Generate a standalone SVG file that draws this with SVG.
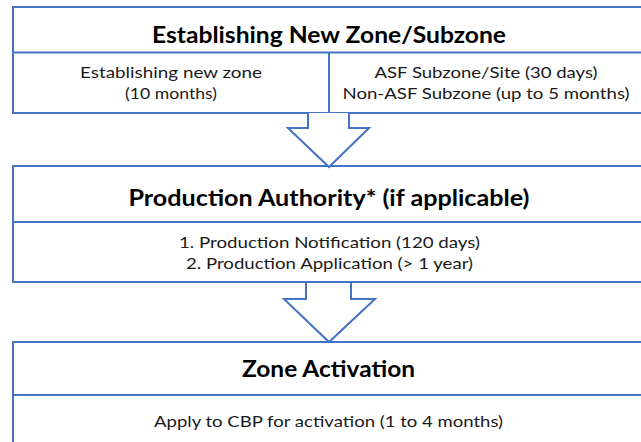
<svg xmlns="http://www.w3.org/2000/svg" width="641" height="442" viewBox="0 0 641 442">
  <defs>
    <style>
      .box { fill: #ffffff; stroke: #4472C4; stroke-width: 2; }
      .rule { stroke: #4472C4; stroke-width: 2; fill: none; }
      .arrow { fill: #ffffff; stroke: #4472C4; stroke-width: 2; stroke-linejoin: miter; }
      .head { font-family: Lato, "Liberation Sans", sans-serif; font-weight: bold; font-size: 23px; fill: #000000; text-anchor: middle; }
      .body { font-family: Lato, "Liberation Sans", sans-serif; font-size: 16px; fill: #1a1a1a; text-anchor: middle; }
    </style>
  </defs>
  <rect width="641" height="442" fill="#ffffff"/>

  <!-- Stage 1 -->
  <g id="establishing-zone">
    <rect class="box" x="13" y="7" width="660" height="106"/>
    <line class="rule" x1="13" y1="52.5" x2="673" y2="52.5"/>
    <line class="rule" x1="329" y1="52.5" x2="329" y2="113"/>
    <text class="head" x="329" y="43" textLength="354" lengthAdjust="spacingAndGlyphs">Establishing New Zone/Subzone</text>
    <text class="body" x="171" y="78" textLength="182" lengthAdjust="spacingAndGlyphs">Establishing new zone</text>
    <text class="body" x="171" y="99" textLength="92" lengthAdjust="spacingAndGlyphs">(10 months)</text>
    <text class="body" x="486" y="78" textLength="223" lengthAdjust="spacingAndGlyphs">ASF Subzone/Site (30 days)</text>
    <text class="body" x="486" y="99" textLength="287" lengthAdjust="spacingAndGlyphs">Non-ASF Subzone (up to 5 months)</text>
  </g>

  <!-- Stage 2 -->
  <g id="production-authority">
    <rect class="box" x="13" y="166" width="660" height="116"/>
    <line class="rule" x1="13" y1="222" x2="673" y2="222"/>
    <text class="head" x="329" y="206" textLength="401" lengthAdjust="spacingAndGlyphs">Production Authority* (if applicable)</text>
    <text class="body" x="329.5" y="248" textLength="301" lengthAdjust="spacingAndGlyphs">1. Production Notification (120 days)</text>
    <text class="body" x="329.5" y="269" textLength="287" lengthAdjust="spacingAndGlyphs">2. Production Application (&gt; 1 year)</text>
  </g>

  <!-- Stage 3 -->
  <g id="zone-activation">
    <rect class="box" x="13" y="342" width="660" height="120"/>
    <line class="rule" x1="13" y1="395" x2="673" y2="395"/>
    <text class="head" x="328.5" y="377" textLength="173" lengthAdjust="spacingAndGlyphs">Zone Activation</text>
    <text class="body" x="328.5" y="427" textLength="349" lengthAdjust="spacingAndGlyphs">Apply to CBP for activation (1 to 4 months)</text>
  </g>

  <!-- Block arrows between stages -->
  <g id="connectors">
    <path class="arrow" d="M308,113 V128 H288 L329,167 L369,128 H349 V113"/>
    <path class="arrow" d="M306,283 V299 H284 L329,342 L375,299 H351 V283"/>
  </g>
</svg>
